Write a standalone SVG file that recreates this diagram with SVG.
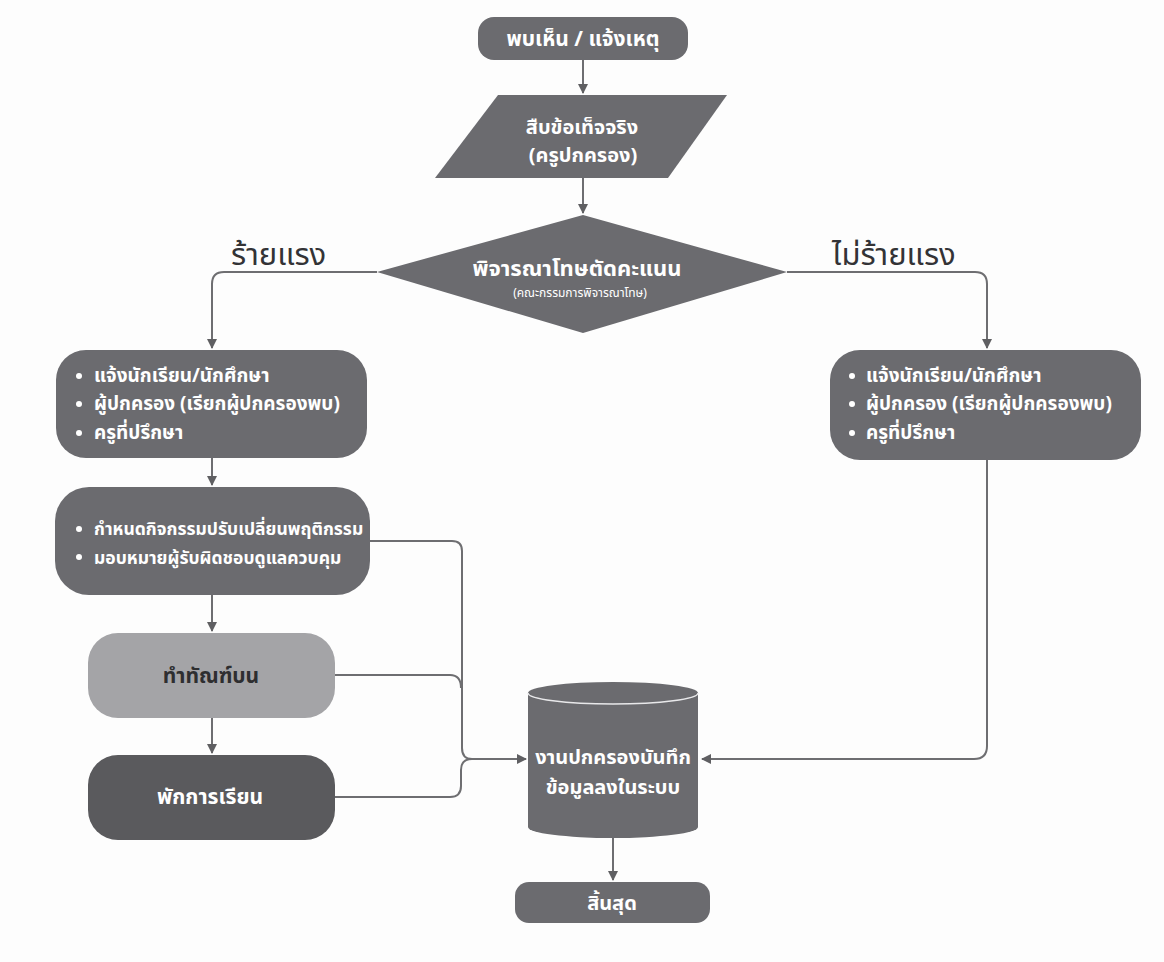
<svg xmlns="http://www.w3.org/2000/svg" width="1164" height="962" viewBox="0 0 1164 962">
<defs>
<marker id="ah" viewBox="0 0 10 10" refX="9" refY="5" markerWidth="5" markerHeight="5" orient="auto-start-reverse">
<path d="M0,0 L10,5 L0,10 z" fill="#5f5f62"/>
</marker>
<style>
.n{fill:#6b6b6f}
.lt{fill:#a4a4a7}
.dk{fill:#5a5a5d}
.t{font-family:"Noto Sans Thai","Noto Sans","Liberation Sans",sans-serif;font-weight:bold;fill:#ffffff;font-size:21px}
.b{font-size:19px}
.c{text-anchor:middle}
.lab{font-family:"Noto Sans Thai","Noto Sans","Liberation Sans",sans-serif;fill:#333336;font-size:31px}
.ln{fill:none;stroke:#6e6e71;stroke-width:2}
.bul{fill:#ffffff}
</style>
</defs>
<rect width="1164" height="962" fill="#fdfdfd"/>
<g id="connectors">
<path class="ln" d="M583,60 V93" marker-end="url(#ah)"/>
<path class="ln" d="M583,178 V213" marker-end="url(#ah)"/>
<path class="ln" d="M377,272 H224 Q212,272 212,284 V348" marker-end="url(#ah)"/>
<path class="ln" d="M787,272 H975 Q987,272 987,284 V348" marker-end="url(#ah)"/>
<path class="ln" d="M212,458 V485" marker-end="url(#ah)"/>
<path class="ln" d="M212,595 V631" marker-end="url(#ah)"/>
<path class="ln" d="M212,718 V753" marker-end="url(#ah)"/>
<path class="ln" d="M370,541 H452 Q462,541 462,551 V748 Q462,759 472,759 H526" marker-end="url(#ah)"/>
<path class="ln" d="M335,675 H450 Q461,675 461,688"/>
<path class="ln" d="M335,797 H450 Q461,797 461,786 V770 Q461,759 472,759"/>
<path class="ln" d="M987,460 V746 Q987,759 974,759 H702" marker-end="url(#ah)"/>
<path class="ln" d="M613,838 V880" marker-end="url(#ah)"/>
</g>
<g id="start">
<rect class="n" x="478" y="17" width="210" height="43" rx="16"/>
<text class="t c" x="583" y="46">พบเห็น / แจ้งเหตุ</text>
</g>
<g id="investigate">
<polygon class="n" points="498,95 727,95 668,178 435,178"/>
<text class="t c" x="582" y="134" style="font-size:20px">สืบข้อเท็จจริง</text>
<text class="t c" x="583" y="162" style="font-size:20px">(ครูปกครอง)</text>
</g>
<g id="decision">
<polygon class="n" points="583,215 787,272 583,333 377,272"/>
<text class="t c" x="577" y="276" style="font-size:22px">พิจารณาโทษตัดคะแนน</text>
<text class="t c" x="580" y="297" style="font-size:12px;font-weight:normal">(คณะกรรมการพิจารณาโทษ)</text>
</g>
<g id="label-severe">
<text class="lab" x="231" y="265">ร้ายแรง</text>
</g>
<g id="label-notsevere">
<text class="lab" x="832" y="265">ไม่ร้ายแรง</text>
</g>
<g id="notify-left">
<rect class="n" x="56" y="350" width="311" height="108" rx="30"/>
<circle class="bul" cx="79" cy="376" r="3"/>
<circle class="bul" cx="79" cy="404" r="3"/>
<circle class="bul" cx="79" cy="433" r="3"/>
<text class="t b" x="94" y="382">แจ้งนักเรียน/นักศึกษา</text>
<text class="t b" x="94" y="410">ผู้ปกครอง (เรียกผู้ปกครองพบ)</text>
<text class="t b" x="94" y="439">ครูที่ปรึกษา</text>
</g>
<g id="activity">
<rect class="n" x="55" y="487" width="315" height="108" rx="34"/>
<circle class="bul" cx="79" cy="529" r="3"/>
<circle class="bul" cx="79" cy="557" r="3"/>
<text class="t b" x="94" y="535" style="font-size:17.5px">กำหนดกิจกรรมปรับเปลี่ยนพฤติกรรม</text>
<text class="t b" x="94" y="564" style="font-size:17.5px">มอบหมายผู้รับผิดชอบดูแลควบคุม</text>
</g>
<g id="probation">
<rect class="lt" x="88" y="633" width="247" height="85" rx="30"/>
<text class="t c" x="211" y="683" style="fill:#2e2e30">ทำทัณฑ์บน</text>
</g>
<g id="suspend">
<rect class="dk" x="88" y="755" width="247" height="85" rx="30"/>
<text class="t c" x="210" y="804">พักการเรียน</text>
</g>
<g id="notify-right">
<rect class="n" x="830" y="350" width="311" height="110" rx="30"/>
<circle class="bul" cx="852" cy="376" r="3"/>
<circle class="bul" cx="852" cy="404" r="3"/>
<circle class="bul" cx="852" cy="433" r="3"/>
<text class="t b" x="866" y="382">แจ้งนักเรียน/นักศึกษา</text>
<text class="t b" x="866" y="410">ผู้ปกครอง (เรียกผู้ปกครองพบ)</text>
<text class="t b" x="866" y="439">ครูที่ปรึกษา</text>
</g>
<g id="record">
<path class="n" d="M528,693 V827 A85,11 0 0 0 698,827 V693 A85,11 0 0 0 528,693 z"/>
<path d="M528,693 A85,11 0 0 0 698,693" fill="none" stroke="#e8e8ea" stroke-width="1.5"/>
<text class="t c" x="613" y="764" style="font-size:20px">งานปกครองบันทึก</text>
<text class="t c" x="613" y="794" style="font-size:20px">ข้อมูลลงในระบบ</text>
</g>
<g id="end">
<rect class="n" x="515" y="882" width="195" height="41" rx="14"/>
<text class="t c" x="612" y="910" style="font-size:20px">สิ้นสุด</text>
</g>
</svg>
